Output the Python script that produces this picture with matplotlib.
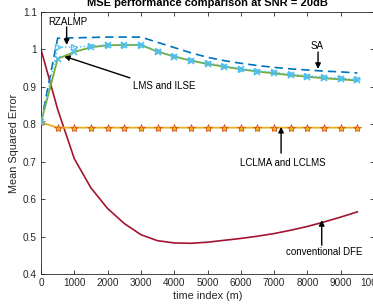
import matplotlib
matplotlib.use("Agg")
import matplotlib.pyplot as plt
import numpy as np

plt.rcParams['font.family'] = ['Liberation Sans', 'DejaVu Sans']

t = [0, 500, 1000, 1500, 2000, 2500, 3000, 3500, 4000, 4500, 5000,
     5500, 6000, 6500, 7000, 7500, 8000, 8500, 9000, 9500]

sa = [0.805, 1.030, 1.031, 1.032, 1.033, 1.033, 1.033, 1.019, 1.005, 0.991, 0.979,
      0.970, 0.963, 0.957, 0.952, 0.948, 0.945, 0.942, 0.940, 0.937]
rzalmp = [0.805, 1.006, 1.006, 1.009, 1.012, 1.013, 1.013, 0.995, 0.982, 0.971, 0.963,
          0.956, 0.949, 0.943, 0.939, 0.934, 0.930, 0.926, 0.923, 0.920]
lms = [0.805, 0.975, 0.993, 1.006, 1.011, 1.012, 1.012, 0.994, 0.981, 0.970, 0.961,
       0.954, 0.947, 0.941, 0.936, 0.931, 0.927, 0.923, 0.920, 0.917]
lclma = [0.805, 0.791, 0.791, 0.791, 0.791, 0.791, 0.791, 0.791, 0.791, 0.791, 0.791,
         0.791, 0.791, 0.791, 0.791, 0.791, 0.791, 0.791, 0.791, 0.791]
dfe = [1.000, 0.840, 0.708, 0.630, 0.575, 0.535, 0.505, 0.489, 0.483, 0.482, 0.485,
       0.490, 0.495, 0.501, 0.508, 0.517, 0.527, 0.539, 0.552, 0.566]

xticks = [0, 1000, 2000, 3000, 4000, 5000, 6000, 7000, 8000, 9000, 10000]
yticks = [0.4, 0.5, 0.6, 0.7, 0.8, 0.9, 1.0, 1.1]
ytick_labels = ['0.4', '0.5', '0.6', '0.7', '0.8', '0.9', '1', '1.1']

fig = plt.figure(figsize=(3.73, 3.05), dpi=100)
ax = fig.add_axes([41/373, 31/305, 333/373, 262/305])

ax.plot(t, dfe, color='#A2142F', lw=1.2, zorder=2)
ax.plot(t, lclma, color='#EDB120', lw=1.3, marker='*', ms=6,
        mfc='#EDB120', mec='#D95319', mew=0.6, zorder=3)
ax.plot(t, sa, color='#0072BD', lw=1.2, ls=(0, (5, 3)), zorder=3)
ax.plot(t, lms, color='#77AC30', lw=1.3, marker='x', ms=5,
        mec='#4DBEEE', mew=1.2, zorder=4)
ax.plot(t, rzalmp, color='#4DBEEE', lw=1.0, ls=':', marker='>', ms=5,
        mfc='none', mec='#4DBEEE', mew=0.9, zorder=5)

ax.set_xlim(0, 10000)
ax.set_ylim(0.4, 1.1)
ax.set_xticks(xticks)
ax.set_xticklabels([str(v) for v in xticks])
ax.set_yticks(yticks)
ax.set_yticklabels(ytick_labels)
ax.tick_params(direction='in', length=3, width=0.6, labelsize=7.2,
               colors='#262626', top=True, right=True, pad=3)
for s in ax.spines.values():
    s.set_color('#262626')
    s.set_linewidth(0.6)

ax.set_xlabel('time index (m)', fontsize=7.8, color='#262626', labelpad=2)
ax.set_ylabel('Mean Squared Error', fontsize=7.8, color='#262626', labelpad=3)
ax.set_title('MSE performance comparison at SNR = 20dB', fontsize=8,
             fontweight='bold', pad=4)

ap = dict(arrowstyle='-|>', color='k', lw=1.0, mutation_scale=8,
          shrinkA=0, shrinkB=0)
fs = 7
ax.annotate('', xy=(770, 1.012), xytext=(770, 1.06), arrowprops=ap)
ax.text(810, 1.073, 'RZALMP', fontsize=fs, ha='center', va='center')
ax.annotate('', xy=(690, 0.982), xytext=(2670, 0.924), arrowprops=ap)
ax.text(2760, 0.902, 'LMS and ILSE', fontsize=fs, ha='left', va='center')
ax.annotate('', xy=(8320, 0.948), xytext=(8320, 0.993), arrowprops=ap)
ax.text(8290, 1.009, 'SA', fontsize=fs, ha='center', va='center')
ax.annotate('', xy=(7210, 0.793), xytext=(7210, 0.723), arrowprops=ap)
ax.text(7270, 0.697, 'LCLMA and LCLMS', fontsize=fs, ha='center', va='center')
ax.annotate('', xy=(8430, 0.544), xytext=(8430, 0.477), arrowprops=ap)
ax.text(8500, 0.459, 'conventional DFE', fontsize=fs, ha='center', va='center')

fig.savefig('out.png', dpi=100)
